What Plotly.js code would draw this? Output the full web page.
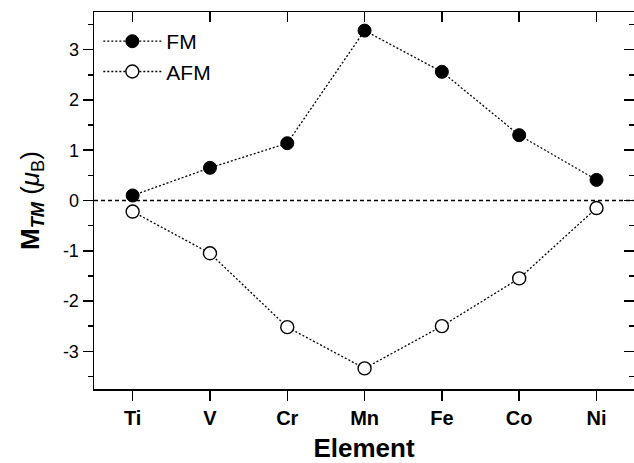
<!DOCTYPE html>
<html>
<head>
<meta charset="utf-8">
<script src="https://cdn.plot.ly/plotly-3.0.1.min.js"></script>
<style>html,body{margin:0;padding:0;background:#fff}#chart{width:634px;height:463px}</style>
</head>
<body>
<div id="chart"></div>
<script>
const elements = ["Ti", "V", "Cr", "Mn", "Fe", "Co", "Ni"];
const fmValues = [0.10, 0.65, 1.14, 3.38, 2.56, 1.30, 0.41];
const afmValues = [-0.22, -1.05, -2.52, -3.34, -2.50, -1.55, -0.15];
const yTickVals = [-3, -2, -1, 0, 1, 2, 3];
const yTickText = ["-3", "-2", "-1", "0", "1", "2", "3"];

const idx = elements.map((_, i) => i);
const font = "Liberation Sans, Arial, sans-serif";

const traces = [
  {
    x: idx, y: fmValues, name: "FM", type: "scatter", mode: "lines+markers",
    line: {color: "#000", width: 1.3, dash: "2px,2px"},
    marker: {symbol: "circle", size: 13, color: "#000", line: {color: "#000", width: 1}}
  },
  {
    x: idx, y: afmValues, name: "AFM", type: "scatter", mode: "lines+markers",
    line: {color: "#000", width: 1.3, dash: "2px,2px"},
    marker: {symbol: "circle", size: 13, color: "#fff", line: {color: "#000", width: 1.4}}
  },
  {x: [], y: [], xaxis: "x2", yaxis: "y2", showlegend: false, hoverinfo: "skip", type: "scatter"}
];

const xr = [-0.5, 6.485];
const yr = [-3.75, 3.75];

const layout = {
  width: 634, height: 463,
  margin: {l: 94, r: 0, t: 12, b: 74},
  paper_bgcolor: "#fff", plot_bgcolor: "#fff",
  showlegend: true,
  legend: {
    x: 0.008, y: 0.976, xanchor: "left", yanchor: "top",
    font: {family: font, size: 21, color: "#000"},
    itemwidth: 58, tracegroupgap: 0, bgcolor: "rgba(0,0,0,0)"
  },
  xaxis: {
    range: xr, tickvals: idx, ticktext: elements.map(e => "<b>" + e + "</b>"),
    ticks: "outside", ticklen: 10, tickwidth: 1.5, tickcolor: "#000",
    showline: true, linecolor: "#000", linewidth: 1.5, showgrid: false, zeroline: false,
    tickfont: {family: font, size: 20, color: "#000"},
    title: {text: "<b>Element</b>", font: {family: font, size: 26, color: "#000"}, standoff: 14}
  },
  xaxis2: {
    range: xr, tickvals: idx, overlaying: "x", side: "top", anchor: "y",
    ticks: "inside", ticklen: 10, tickwidth: 1.5, tickcolor: "#000",
    showline: true, linecolor: "#000", linewidth: 1.5, showgrid: false, zeroline: false,
    showticklabels: false
  },
  yaxis: {
    range: yr, tickvals: yTickVals, ticktext: yTickText,
    ticks: "outside", ticklen: 10, tickwidth: 1.5, tickcolor: "#000",
    minor: {dtick: 0.5, ticks: "outside", ticklen: 5, tickwidth: 1.5, tickcolor: "#000", showgrid: false},
    showline: true, linecolor: "#000", linewidth: 1.5, showgrid: false, zeroline: false,
    tickfont: {family: font, size: 18, color: "#000"},
    title: {text: "<b>M<sub><i>TM</i></sub></b> (<i>μ</i><sub>B</sub>)", font: {family: font, size: 26, color: "#000"}, standoff: 16}
  },
  yaxis2: {
    range: yr, tickvals: yTickVals, overlaying: "y", side: "right", anchor: "x",
    ticks: "inside", ticklen: 10, tickwidth: 1.5, tickcolor: "#000",
    minor: {dtick: 0.5, ticks: "inside", ticklen: 5, tickwidth: 1.5, tickcolor: "#000", showgrid: false},
    showline: false, showgrid: false, zeroline: false,
    showticklabels: false
  },
  shapes: [{
    type: "line", xref: "paper", yref: "y", x0: 0, x1: 1, y0: 0, y1: 0,
    line: {color: "#000", width: 1.5, dash: "4px,3px"}, layer: "below"
  }]
};

Plotly.newPlot("chart", traces, layout, {displayModeBar: false, staticPlot: true});
</script>
</body>
</html>
